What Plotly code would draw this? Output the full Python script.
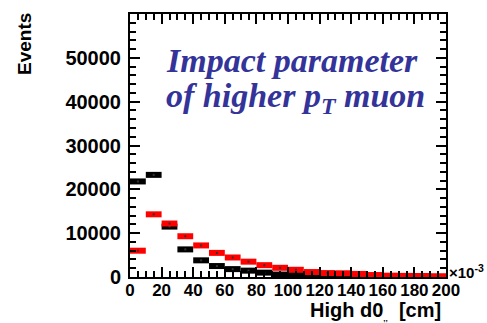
import plotly.graph_objects as go

# bin centres of High d0 (units of 1e-3 cm), bin width 10
bin_centers = [5, 15, 25, 35, 45, 55, 65, 75, 85, 95,
               105, 115, 125, 135, 145, 155, 165, 175, 185, 195]
bin_half_width = 5
black_counts = [21800, 23300, 11500, 6300, 3800, 2500, 1800, 1450, 1000, 560,
                560, 300, 300, 200, 150, 120, 100, 80, 60, 50]
red_counts = [6000, 14300, 12200, 9300, 7200, 5500, 4450, 3500, 2700, 2100,
              1650, 1130, 900, 850, 700, 450, 300, 250, 230, 150]

x_range = [0, 200]
y_range = [0, 60000]
x_ticks = [0, 20, 40, 60, 80, 100, 120, 140, 160, 180, 200]
y_ticks = [0, 10000, 20000, 30000, 40000, 50000]

W, H = 487, 323
ml, mr, mt, mb = 130, 41, 12, 46
pw, ph = W - ml - mr, H - mt - mb

def px_x(p):
    return (p - ml) / pw

def px_y(p):
    return (H - mb - p) / ph

fig = go.Figure()
for counts, col in [(black_counts, "black"), (red_counts, "#ff0000")]:
    fig.add_trace(go.Scatter(
        x=bin_centers, y=counts, mode="markers",
        marker=dict(size=2, color="#333333", symbol="square"),
        error_x=dict(type="constant", value=bin_half_width, thickness=6,
                     width=0, color=col),
        showlegend=False, hoverinfo="skip"))

common = dict(tickcolor="black", tickwidth=2, showgrid=False, zeroline=False)
fig.update_layout(
    xaxis=dict(range=x_range, tickmode="array", tickvals=x_ticks,
               ticks="inside", ticklen=10, showline=True, linecolor="black",
               linewidth=2, mirror="ticks", ticklabelstandoff=-3,
               tickfont=dict(family="Liberation Sans", size=17, color="black", weight="bold"),
               minor=dict(tickmode="linear", tick0=0, dtick=5, ticks="inside",
                          ticklen=6, tickcolor="black", tickwidth=1.5, showgrid=False),
               **common),
    yaxis=dict(range=y_range, tickmode="array", tickvals=y_ticks,
               ticktext=[str(v) for v in y_ticks],
               ticks="inside", ticklen=10, showline=True, linecolor="black",
               linewidth=2, mirror="ticks", ticklabelstandoff=3,
               tickfont=dict(family="Liberation Sans", size=20, color="black", weight="bold"),
               minor=dict(tickmode="linear", tick0=0, dtick=2000, ticks="inside",
                          ticklen=6, tickcolor="black", tickwidth=1.5, showgrid=False),
               **common),
)

ann_font = dict(family="Liberation Serif", size=34, color="#333399")
fig.add_annotation(text="<b><i>Impact parameter</i></b>", xref="paper", yref="paper",
                   x=px_x(164), y=px_y(59), xanchor="left", yanchor="middle",
                   showarrow=False, font=ann_font)
fig.add_annotation(text="<b><i>of higher p<sub>T</sub> muon</i></b>", xref="paper", yref="paper",
                   x=px_x(164), y=px_y(97), xanchor="left", yanchor="middle",
                   showarrow=False, font=ann_font)
fig.add_annotation(text="<b>Events</b>", xref="paper", yref="paper", textangle=-90,
                   x=px_x(24), y=px_y(9), xanchor="center", yanchor="top",
                   showarrow=False, font=dict(family="Liberation Sans", size=19, color="black"))
fig.add_annotation(text="<b>High d0<sub><span style='font-size:8px'>,,</span></sub>  [cm]</b>",
                   xref="paper", yref="paper",
                   x=px_x(443), y=px_y(311), xanchor="right", yanchor="middle",
                   showarrow=False, font=dict(family="Liberation Sans", size=20, color="black"))
fig.add_annotation(text="<b>×10<sup>-3</sup></b>", xref="paper", yref="paper",
                   x=px_x(447), y=px_y(271), xanchor="left", yanchor="middle",
                   showarrow=False, font=dict(family="Liberation Sans", size=15, color="black"))

fig.update_layout(width=W, height=H, margin=dict(l=ml, r=mr, t=mt, b=mb),
                  paper_bgcolor="white", plot_bgcolor="white")
fig.write_html("out.html")
